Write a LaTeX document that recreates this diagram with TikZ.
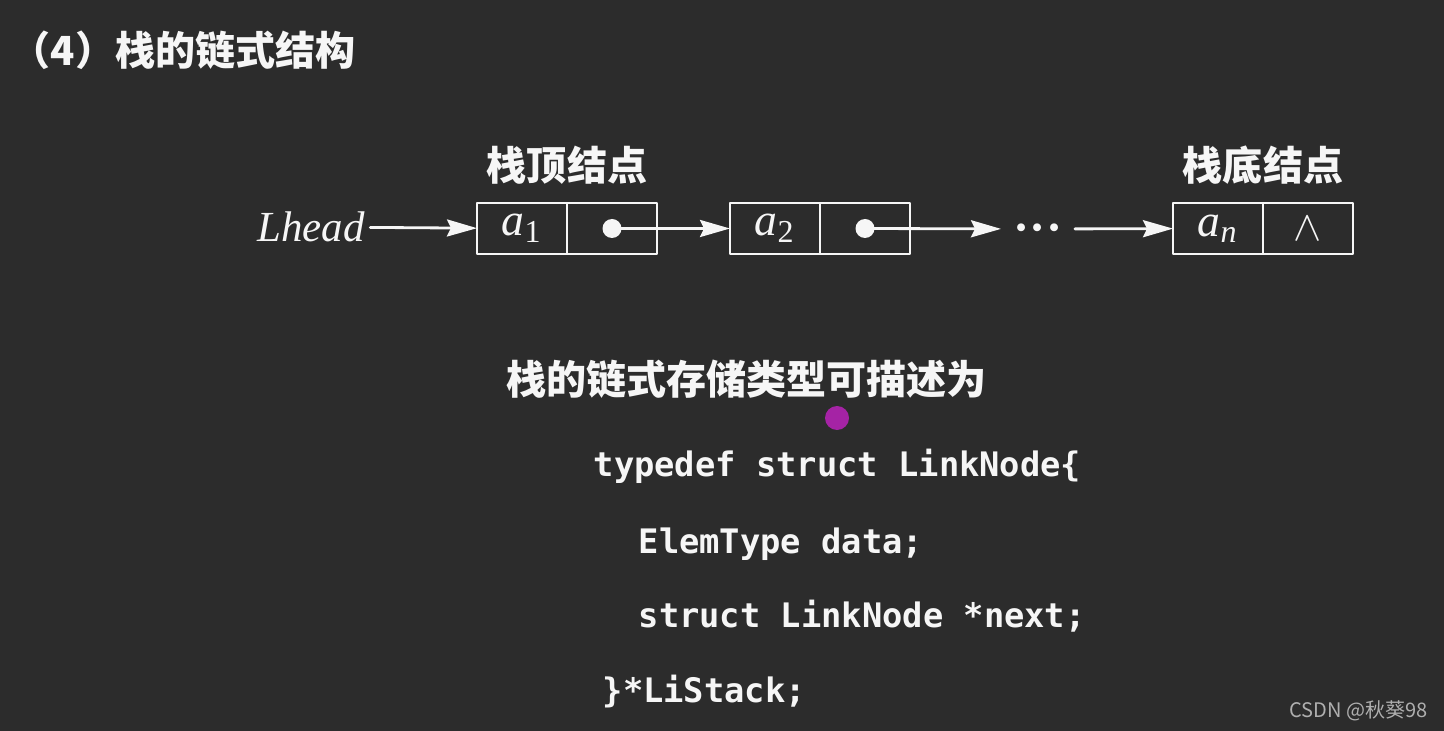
\documentclass[tikz,border=0pt]{standalone}
\usepackage{fontspec}
\setmainfont{Liberation Serif}
\newfontfamily\cjk{Noto Sans CJK SC}
\newfontfamily\codefont{DejaVu Sans Mono}
\usetikzlibrary{arrows.meta,positioning}
\definecolor{boardgray}{RGB}{44,44,44}
\definecolor{chalkwhite}{RGB}{246,246,246}
\definecolor{pointerpurple}{RGB}{165,35,165}
\definecolor{markgray}{RGB}{175,175,175}

\begin{document}
\begin{tikzpicture}[>=Stealth,line cap=round,line join=round,
  cell/.style={draw=chalkwhite,line width=.8pt,minimum width=9mm,minimum height=5.1mm,
    inner sep=0pt,outer sep=0pt,text=chalkwhite,font=\fontsize{13}{14}\selectfont\itshape},
  heading/.style={text=chalkwhite,font=\cjk\bfseries\fontsize{11.4}{13}\selectfont,inner sep=0pt},
  codeline/.style={anchor=base west,text=chalkwhite,inner sep=0pt,
    font=\codefont\bfseries\fontsize{9.6}{11}\selectfont},
  link/.style={chalkwhite,line width=.8pt,-{Stealth[length=3mm,width=1.7mm,inset=.4mm]}}]
 \fill[boardgray] (0,0) rectangle (14.44,-7.31);
 \useasboundingbox (0,0) rectangle (14.44,-7.31);
 \node[heading,anchor=west] (title) at (.10,-.50) {（4）栈的链式结构};
 \node[text=chalkwhite,inner sep=.5mm,font=\fontsize{12.2}{14}\selectfont\itshape]
  (lhead) at (3.11,-2.27) {Lhead};
 \node[cell] (a1) at (5.22,-2.285) {a\textsubscript{\upshape 1}};
 \node[cell,right=0pt of a1] (p1) {};
 \node[cell] (a2) at (7.75,-2.285) {a\textsubscript{\upshape 2}};
 \node[cell,right=0pt of a2] (p2) {};
 \node[text=chalkwhite,inner sep=1.2mm,font=\fontsize{14}{15}\selectfont\boldmath]
  (dots) at (10.38,-2.29) {${\cdot}{\cdot}{\cdot}$};
 \node[cell] (an) at (12.18,-2.285) {a\textsubscript{n}};
 \node[cell,right=0pt of an,font=\fontsize{12.5}{14}\selectfont] (pn) {$\wedge$};
 \node[heading,above=1.8mm of a1.north east] (toplabel) {栈顶结点};
 \node[heading,above=1.8mm of an.north east] (bottomlabel) {栈底结点};
 \fill[chalkwhite] (p1.center) circle (.095) (p2.center) circle (.095);
 \draw[link] (lhead) -- (a1);
 \draw[link] (p1.center) -- (a2);
 \draw[link] (p2.center) -- (dots);
 \draw[link] (dots) -- (an);
 \node[heading] (typetitle) at (7.465,-3.79) {栈的链式存储类型可描述为};
 \fill[pointerpurple] (8.37,-4.18) circle (.12);
 \node[codeline] (line1) at (5.93,-4.76) {typedef struct LinkNode\{};
 \node[codeline] (line2) at (6.38,-5.53) {ElemType data;};
 \node[codeline] (line3) at (6.38,-6.27) {struct LinkNode *next;};
 \node[codeline] (line4) at (6.02,-7.02) {\}*LiStack;};
 \node[anchor=east,text=markgray,inner sep=0pt,font=\cjk\fontsize{5.7}{7}\selectfont]
  (mark) at (14.28,-7.11) {CSDN @秋葵98};
\end{tikzpicture}
\end{document}
